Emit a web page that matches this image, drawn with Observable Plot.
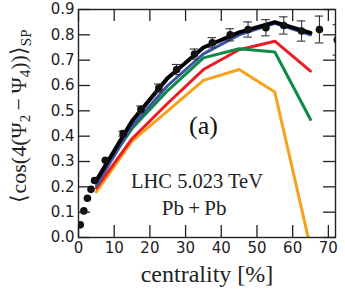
<!DOCTYPE html>
<html>
<head>
<meta charset="utf-8">
<script src="https://cdn.jsdelivr.net/npm/d3@7"></script>
<script src="https://cdn.jsdelivr.net/npm/@observablehq/plot@0.6"></script>
<style>
  html, body { margin: 0; padding: 0; background: #fff; }
  #chart { width: 345px; height: 292px; }
</style>
</head>
<body>
<div id="chart"></div>
<script>
// Measured points (centrality %, value, error)
const centrality = [0.5, 1.5, 2.5, 3.5, 4.5, 7.5, 12.5, 17.5, 22.5, 27.5, 32.5, 37.5, 42.5, 47.5, 52.5, 57.5, 62.5, 67.5, 72.5];
const measured   = [0.05, 0.105, 0.155, 0.19, 0.225, 0.305, 0.41, 0.506, 0.59, 0.663, 0.724, 0.769, 0.80, 0.821, 0.828, 0.837, 0.815, 0.821, 0.78];
const measuredErr = [0.003, 0.004, 0.005, 0.005, 0.006, 0.008, 0.01, 0.013, 0.016, 0.02, 0.02, 0.02, 0.024, 0.03, 0.032, 0.034, 0.04, 0.053, 0.06];

// Model curves
const modelCentrality = [5, 15, 25, 35, 45, 55, 65];
const calcBlack  = [0.225, 0.46, 0.63, 0.75, 0.81, 0.85, 0.808];
const calcBlue   = [0.205, 0.44, 0.60, 0.725, 0.80, 0.845, 0.80];
const calcGreen  = [0.225, 0.43, 0.58, 0.709, 0.745, 0.732, 0.466];
const calcRed    = [0.195, 0.39, 0.53, 0.663, 0.741, 0.775, 0.657];
const calcOrange = [0.18, 0.38, 0.50, 0.62, 0.663, 0.574, -0.04];

const xTicks = [0, 10, 20, 30, 40, 50, 60, 70];
const yTicks = [0, 0.1, 0.2, 0.3, 0.4, 0.5, 0.6, 0.7, 0.8, 0.9];

const points = centrality.map((x, i) => ({x, y: measured[i], e: measuredErr[i]}));
const curve = (vals) => modelCentrality.map((x, i) => ({x, y: vals[i]}));

const series = [
  {vals: calcOrange, color: "#f7a21b", w: 3},
  {vals: calcRed,    color: "#ec1c24", w: 3},
  {vals: calcGreen,  color: "#0f8a44", w: 3},
  {vals: calcBlue,   color: "#3a55a5", w: 3},
  {vals: calcBlack,  color: "#000000", w: 4}
];

const W = 345, H = 292;
const mL = 78, mR = 10, mT = 9, mB = 55;
const frameW = W - mL - mR, frameH = H - mT - mB;
const TL = 12; // inward tick length

const axisFont = "DejaVu Sans";
const serif = "Liberation Serif";
const tk = {stroke: "#222", strokeWidth: 1.3};

const svg = Plot.plot({
  width: W,
  height: H,
  marginLeft: mL,
  marginRight: mR,
  marginTop: mT,
  marginBottom: mB,
  style: {fontFamily: axisFont, fontSize: "15px", color: "#222", background: "#fff"},
  x: {domain: [0, 72], axis: null},
  y: {domain: [0, 0.9], axis: null},
  marks: [
    ...series.map(s => Plot.line(curve(s.vals), {x: "x", y: "y", stroke: s.color, strokeWidth: s.w, clip: true, strokeLinejoin: "miter"})),
    Plot.ruleX(points, {x: "x", y1: d => d.y - d.e, y2: d => d.y + d.e, stroke: "#333", strokeWidth: 1.1, clip: true}),
    Plot.ruleY(points.filter(d => d.x > 10), {y: d => d.y + d.e, x1: d => d.x - 1.2, x2: d => d.x + 1.2, stroke: "#333", strokeWidth: 1.1, clip: true}),
    Plot.ruleY(points.filter(d => d.x > 10), {y: d => d.y - d.e, x1: d => d.x - 1.2, x2: d => d.x + 1.2, stroke: "#333", strokeWidth: 1.1, clip: true}),
    Plot.dot(points, {x: "x", y: "y", r: 3.8, fill: "#111", stroke: "none", clip: true}),
    Plot.text(["(a)"], {x: 35, y: 0.44, fontFamily: serif, fontSize: 26, fill: "#111"}),
    Plot.text(["LHC 5.023 TeV"], {x: 33.2, y: 0.222, fontFamily: serif, fontSize: 20.5, fill: "#222"}),
    Plot.text(["Pb\u2009+\u2009Pb"], {x: 32.4, y: 0.117, fontFamily: serif, fontSize: 21, fill: "#222"}),
    Plot.text(["centrality [%]"], {frameAnchor: "bottom", dy: 44, lineAnchor: "bottom", fontFamily: serif, fontSize: 24, fill: "#222"}),
    // inward ticks on all four sides
    Plot.tickX(xTicks, {x: d => d, insetTop: frameH - TL, ...tk}),
    Plot.tickX(xTicks, {x: d => d, insetBottom: frameH - TL, ...tk}),
    Plot.tickY(yTicks, {y: d => d, insetRight: frameW - TL, ...tk}),
    Plot.tickY(yTicks, {y: d => d, insetLeft: frameW - TL, ...tk}),
    // tick labels
    Plot.axisX({ticks: xTicks, tickSize: 0, tickPadding: 5, tickFormat: d => String(d), label: null}),
    Plot.axisY({ticks: yTicks, tickSize: 0, tickPadding: 4, tickFormat: d3.format(".1f"), label: null}),
    Plot.frame({stroke: "#222", strokeWidth: 1.4})
  ]
});

// y-axis title with subscripts
const yl = d3.select(svg).append("text")
  .attr("transform", "translate(26,116) rotate(-90)")
  .attr("text-anchor", "middle")
  .attr("font-family", serif)
  .attr("font-size", 22)
  .attr("fill", "#222");
yl.append("tspan").text("\u27E8cos(4(\u03A8");
yl.append("tspan").attr("font-size", 15).attr("dy", 4).text("2");
yl.append("tspan").attr("dy", -4).text("\u2009\u2212\u2009\u03A8");
yl.append("tspan").attr("font-size", 15).attr("dy", 4).text("4");
yl.append("tspan").attr("dy", -4).text("))\u27E9");
yl.append("tspan").attr("font-size", 15).attr("dy", 5).text("SP");

document.getElementById("chart").appendChild(svg);
</script>
</body>
</html>
